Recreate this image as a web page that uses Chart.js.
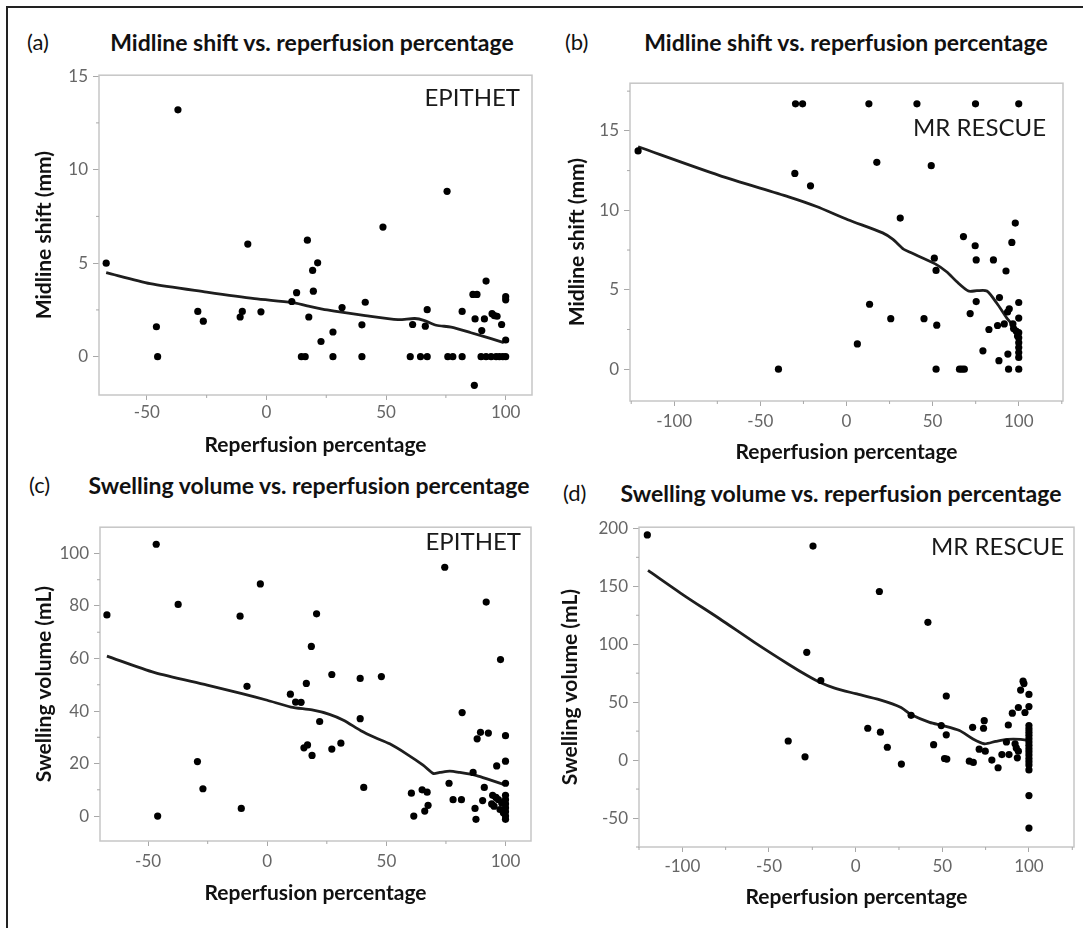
<!DOCTYPE html>
<html>
<head>
<meta charset="utf-8">
<title>Midline shift and swelling volume vs. reperfusion percentage</title>
<script src="https://cdn.jsdelivr.net/npm/chart.js@4.4.1/dist/chart.umd.min.js"></script>
<style>
  body { margin: 0; background: #fff; }
  #page { position: relative; width: 1091px; height: 928px; overflow: hidden; font-family: Lato, sans-serif; color: #111; }
  .frame-top { position: absolute; left: 6px; top: 6px; width: 1077px; height: 2px; background: #222; }
  .frame-left { position: absolute; left: 6px; top: 6px; width: 2px; height: 922px; background: #222; }
  .ptitle { position: absolute; transform: translate(-50%, -50%); font-weight: bold; font-size: 23px; white-space: nowrap; }
  .plabel { position: absolute; transform: translateY(-50%); font-size: 22px; }
  canvas { position: absolute; }
</style>
</head>
<body>
<div id="page">
  <div class="frame-top"></div>
  <div class="frame-left"></div>
  <div class="plabel" style="left:27px; top:41px;">(a)</div>
  <div class="ptitle" style="left:312px; top:42px;">Midline shift vs. reperfusion percentage</div>
  <div class="plabel" style="left:565px; top:41px;">(b)</div>
  <div class="ptitle" style="left:846px; top:42px;">Midline shift vs. reperfusion percentage</div>
  <div class="plabel" style="left:29px; top:484px;">(c)</div>
  <div class="ptitle" style="left:309px; top:485px;">Swelling volume vs. reperfusion percentage</div>
  <div class="plabel" style="left:563px; top:492px;">(d)</div>
  <div class="ptitle" style="left:841px; top:493px;">Swelling volume vs. reperfusion percentage</div>
</div>
<script>
// Datos: [reperfusion %, valor]

// (a) EPITHET, desplazamiento de linea media (mm)
const shiftEpithet = [
  [-67, 5.0], [-37, 13.2], [-46, 1.6], [-45.5, 0], [-28.7, 2.42], [-26.4, 1.9],
  [-11, 2.12], [-10.1, 2.42], [-7.8, 6.02], [-2.3, 2.4], [10.6, 2.95], [12.6, 3.42],
  [14.6, 0], [16.2, 0], [17.1, 6.23], [17.7, 2.12], [19.3, 4.61], [19.6, 3.5],
  [21.4, 5.02], [22.8, 0.81], [27.8, 1.32], [27.8, 0], [31.6, 2.63], [39.9, 1.7],
  [39.9, 0], [41.3, 2.91], [48.7, 6.93], [60.1, 0], [64.4, 0], [67.2, 0],
  [61.1, 1.72], [66.4, 1.63], [67.2, 2.51], [75.5, 8.84], [75.8, 0], [77.9, 0],
  [81.8, 0], [81.8, 2.42], [91.8, 4.04], [86.3, 3.33], [88, 3.33], [87.2, 2.02],
  [91.1, 2.02], [90, 1.4], [86.9, -1.53], [94.3, 2.3], [95.3, 2.19], [96.4, 2.16],
  [98.3, 1.72], [100, 3.21], [100, 3.04], [100, 0.89], [89.7, 0], [91.8, 0],
  [93.9, 0], [96, 0], [97.4, 0], [98.8, 0], [100, 0]
];
const shiftEpithetFit = [
  [-67, 4.49], [-48.6, 3.9], [-25, 3.45], [-5, 3.1], [10.6, 2.9], [17, 2.72],
  [25.4, 2.5], [41.3, 2.2], [55, 1.98], [62, 2.04], [66.1, 1.93], [71, 1.68],
  [77.2, 1.58], [85.5, 1.28], [93.9, 0.96], [99.2, 0.75]
];

// (b) MR RESCUE, desplazamiento de linea media (mm)
const shiftRescue = [
  [-121, 13.74], [-29.6, 16.7], [-25.5, 16.7], [13, 16.7], [40.9, 16.7], [74.9, 16.7],
  [100, 16.7], [-30, 12.32], [-20.9, 11.54], [17.6, 13.02], [49.2, 12.81], [31.2, 9.51],
  [13.4, 4.09], [25.7, 3.18], [6.3, 1.59], [-39.5, 0], [98, 9.2], [67.9, 8.35],
  [74.7, 7.77], [96, 7.98], [51, 6.99], [52, 6.22], [75.3, 6.88], [85.3, 6.88],
  [92.6, 6.18], [75.3, 4.26], [88.8, 4.51], [100, 4.2], [94.5, 3.8], [93.5, 3.6],
  [71.8, 3.5], [45, 3.18], [52.4, 2.77], [100, 3.22], [82.7, 2.5], [87.7, 2.75],
  [91.6, 2.85], [96.6, 2.85], [79.2, 1.16], [88.5, 0.54], [93.7, 0.95], [52, 0],
  [65.6, 0], [67, 0], [68.4, 0], [94.1, 0], [100, 0], [97, 2.56], [98.5, 2.4],
  [99.3, 2.09], [100, 2.3], [100, 1.98], [100, 1.67], [100, 1.36], [100, 1.05], [100, 0.74]
];
const shiftRescueFit = [
  [-121, 14], [-74, 12.2], [-33.6, 10.85], [-17.4, 10.24], [0.8, 9.41], [21, 8.58],
  [27, 8.17], [33.2, 7.55], [36.9, 7.36], [51.5, 6.63], [58.3, 6.12], [64.1, 5.5],
  [70.8, 4.92], [75.7, 4.94], [81.5, 4.92], [87.3, 4.15], [93.1, 3.22], [97, 2.7],
  [99.3, 2.09], [99.9, 1.36], [100, 1.0]
];

// (c) EPITHET, volumen de edema (mL)
const swellEpithet = [
  [-67.3, 76.6], [-46.6, 103.5], [-46, 0], [-37.4, 80.6], [-29.3, 20.75], [-27, 10.4],
  [-11.4, 76.1], [-10.9, 2.9], [-8.5, 49.4], [-2.9, 88.4], [9.7, 46.4], [11.9, 43.4],
  [14.2, 43.3], [15.4, 26], [16.9, 27.1], [18.8, 23.1], [16.4, 50.5], [18.5, 64.6],
  [20.7, 77], [22, 36], [27.1, 53.9], [27.1, 25.5], [30.9, 27.75], [39, 52.4],
  [39, 37.1], [40.5, 10.9], [47.9, 53.1], [74.5, 94.75], [81.8, 39.4], [91.9, 81.5],
  [97.9, 59.6], [88.1, 29.4], [89.5, 31.9], [92.8, 31.6], [100, 30.6], [96.3, 19.1],
  [100, 20.9], [86.4, 16.6], [100, 12.5], [76.3, 12.5], [60.5, 8.7], [65, 10],
  [67.1, 9.1], [67.5, 4.1], [66.1, 1.9], [61.5, 0], [78, 6.25], [81.5, 6.25],
  [91.1, 10.9], [90.4, 5.9], [87.2, 2.9], [87.6, -1.25], [94.6, 7.9], [96, 7.1],
  [97, 6.25], [94.2, 4.6], [95.2, 3.75], [97.7, 2.5], [99.1, 1.25], [100, 7.9],
  [100, 6.25], [100, 4.6], [100, 3.1], [100, 1.6], [100, 0], [100, -1.25], [98.4, 5]
];
const swellEpithetFit = [
  [-67.3, 60.9], [-47.2, 54.6], [-25.2, 49.9], [-10.6, 46.6], [0, 44.1], [10, 41.5],
  [18.8, 40.4], [26.1, 38.75], [32, 36.5], [39.3, 32.5], [45.2, 29.9], [51.4, 27.5],
  [58.4, 23.7], [65.4, 19.4], [69.6, 16.25], [72.4, 16.6], [76.6, 17.1], [80.8, 16.6],
  [87.9, 15.4], [93.5, 13.75], [99.8, 11.9]
];

// (d) MR RESCUE, volumen de edema (mL)
const swellRescue = [
  [-120.2, 194.3], [-24.6, 184.7], [-28.2, 93], [-20.1, 68.7], [-38.9, 16.5], [-29.2, 2.8],
  [13.7, 145.5], [41.7, 118.9], [7, 27.5], [14.3, 24.1], [18.3, 11.1], [26.4, -3.4],
  [32, 38.6], [52.3, 55.3], [49.4, 29.8], [52.3, 21.8], [45, 13.3], [51.3, 1.4],
  [52.6, 0.85], [67.5, 28.3], [74.2, 34], [73.8, 27.5], [71.3, 9.4], [74.8, 7.7],
  [65.6, -0.9], [67.9, -2], [78.6, 0], [82.2, -6.6], [84.4, 4.8], [88.5, 4.8],
  [88.1, 30.3], [87, 15.6], [90.4, 40.5], [93.9, 45.4], [92, 14.1], [92.7, 10.5],
  [93.9, 7.7], [93.3, 2], [96.6, 68.1], [97.1, 66], [95.2, 60.4], [100, 56.7],
  [97.7, 41.1], [100, 46.2], [100, 29.8], [100, 26.9], [100, 24.1], [100, 21.3],
  [100, 18.4], [100, 15.6], [100, 12.8], [100, 9.9], [100, 7.1], [100, 4.3],
  [100, 1.4], [100, -1.4], [100, -4.3], [100, -8.5], [100, -30.6], [100, -58.7]
];
const swellRescueFit = [
  [-119.8, 163.7], [-98.7, 141.8], [-78.5, 122], [-58.4, 101.6], [-38.3, 82.3], [-28.2, 73.2],
  [-20.1, 66.7], [-12.1, 62.1], [0, 57.3], [14.1, 51.9], [26.2, 45.4], [32.2, 39.1],
  [42.7, 32.6], [50.3, 29.8], [59.9, 25.5], [67.5, 18.4], [74.2, 14.1], [80.9, 16.2],
  [87.6, 17.9], [95.2, 17.9], [99.6, 17]
];

// Marcas de los ejes
const ticksEpithetX = [-50, 0, 50, 100];
const minorEpithetX = [-25, 25, 75];
const ticksRescueX = [-100, -50, 0, 50, 100];
const minorRescueX = [-125, -75, -25, 25, 75, 125];
const ticksShiftEpithetY = [0, 5, 10, 15];
const minorShiftEpithetY = [2.5, 7.5, 12.5];
const ticksShiftRescueY = [0, 5, 10, 15];
const minorShiftRescueY = [2.5, 7.5, 12.5, 17.5];
const ticksSwellEpithetY = [0, 20, 40, 60, 80, 100];
const minorSwellEpithetY = [10, 30, 50, 70, 90];
const ticksSwellRescueY = [-50, 0, 50, 100, 150, 200];
const minorSwellRescueY = [-75, -25, 25, 75, 125, 175];

const toXY = pairs => pairs.map(p => ({ x: p[0], y: p[1] }));

// Caja gris, marcas menores y etiqueta del estudio
const plotBox = {
  id: 'plotBox',
  afterDraw(chart, args, opts) {
    const { ctx, chartArea: a, scales } = chart;
    ctx.save();
    ctx.strokeStyle = '#c6c6c6';
    ctx.lineWidth = 1.5;
    ctx.strokeRect(a.left, a.top, a.right - a.left, a.bottom - a.top);
    ctx.strokeStyle = '#a8a8a8';
    ctx.lineWidth = 1;
    ctx.beginPath();
    opts.xMinor.forEach(v => {
      const px = scales.x.getPixelForValue(v);
      ctx.moveTo(px, a.bottom);
      ctx.lineTo(px, a.bottom + 3);
    });
    opts.yMinor.forEach(v => {
      const py = scales.y.getPixelForValue(v);
      ctx.moveTo(a.left, py);
      ctx.lineTo(a.left - 3, py);
    });
    ctx.stroke();
    ctx.fillStyle = '#1a1a1a';
    ctx.font = '24px Lato';
    ctx.textAlign = 'right';
    ctx.textBaseline = 'middle';
    ctx.fillText(opts.label, a.right - opts.labelRight, a.top + opts.labelTop);
    ctx.restore();
  }
};

const axisTitleSize = 21;

function makePanel(p) {
  const lh = axisTitleSize * 1.2;
  const cl = Math.round(p.yTitleX - lh / 2);
  const ct = p.box.t - 10;
  const cb = Math.round(p.xTitleY + lh / 2);
  const w = p.box.r + 10 - cl;
  const h = cb - ct;
  const canvas = document.createElement('canvas');
  canvas.width = w;
  canvas.height = h;
  canvas.style.left = cl + 'px';
  canvas.style.top = ct + 'px';
  canvas.style.width = w + 'px';
  canvas.style.height = h + 'px';
  document.getElementById('page').appendChild(canvas);

  const tickFont = { family: 'Lato', size: 17 };
  const titleFont = { family: 'Lato', size: axisTitleSize, weight: 'bold' };
  const gridOpts = { drawOnChartArea: false, drawTicks: true, tickLength: 6, tickColor: '#a8a8a8', tickWidth: 1 };

  new Chart(canvas, {
    type: 'scatter',
    data: {
      datasets: [
        { data: toXY(p.points), pointRadius: 3.6, pointBackgroundColor: '#000', pointBorderWidth: 0 },
        { data: toXY(p.fit), showLine: true, borderColor: '#1e1e1e', borderWidth: 2.8, pointRadius: 0, tension: 0.25, fill: false }
      ]
    },
    options: {
      responsive: false,
      animation: false,
      events: [],
      layout: { padding: { top: 10, right: 10, left: 0, bottom: 0 } },
      plugins: {
        legend: { display: false },
        tooltip: { enabled: false },
        plotBox: { xMinor: p.xMinor, yMinor: p.yMinor, label: p.label, labelRight: p.labelRight, labelTop: p.labelTop }
      },
      scales: {
        x: {
          type: 'linear', min: p.xRange[0], max: p.xRange[1],
          afterBuildTicks: s => { s.ticks = p.xTicks.map(v => ({ value: v })); },
          afterFit: s => { s.height = cb - p.box.b; },
          grid: Object.assign({}, gridOpts, { tickLength: 5 }),
          border: { display: false },
          ticks: { color: '#666', font: tickFont, padding: p.xTickPad, maxRotation: 0, autoSkip: false, callback: v => String(v) },
          title: { display: true, text: 'Reperfusion percentage', color: '#111', font: titleFont, padding: 0 }
        },
        y: {
          type: 'linear', min: p.yRange[0], max: p.yRange[1],
          afterBuildTicks: s => { s.ticks = p.yTicks.map(v => ({ value: v })); },
          afterFit: s => { s.width = p.box.l - cl; },
          grid: gridOpts,
          border: { display: false },
          ticks: { color: '#666', font: tickFont, padding: 5, autoSkip: false, callback: v => String(v) },
          title: { display: true, text: p.yTitle, color: '#111', font: titleFont, padding: 0 }
        }
      }
    },
    plugins: [plotBox]
  });
}

makePanel({
  box: { l: 99, t: 70, r: 532, b: 395 }, yTitleX: 45, xTitleY: 445, xTickPad: 2,
  xRange: [-70, 111], yRange: [-2.05, 15.05],
  xTicks: ticksEpithetX, xMinor: minorEpithetX, yTicks: ticksShiftEpithetY, yMinor: minorShiftEpithetY,
  points: shiftEpithet, fit: shiftEpithetFit, yTitle: 'Midline shift (mm)',
  label: 'EPITHET', labelRight: 12, labelTop: 23
});
makePanel({
  box: { l: 630, t: 78, r: 1063, b: 401 }, yTitleX: 578, xTitleY: 452, xTickPad: 5,
  xRange: [-125.7, 125.7], yRange: [-2, 18],
  xTicks: ticksRescueX, xMinor: minorRescueX, yTicks: ticksShiftRescueY, yMinor: minorShiftRescueY,
  points: shiftRescue, fit: shiftRescueFit, yTitle: 'Midline shift (mm)',
  label: 'MR RESCUE', labelRight: 17, labelTop: 45
});
makePanel({
  box: { l: 100, t: 522, r: 531, b: 841 }, yTitleX: 45, xTitleY: 893, xTickPad: 5,
  xRange: [-70.2, 110.7], yRange: [-9.5, 110],
  xTicks: ticksEpithetX, xMinor: minorEpithetX, yTicks: ticksSwellEpithetY, yMinor: minorSwellEpithetY,
  points: swellEpithet, fit: swellEpithetFit, yTitle: 'Swelling volume (mL)',
  label: 'EPITHET', labelRight: 10, labelTop: 15
});
makePanel({
  box: { l: 639, t: 522, r: 1074, b: 847 }, yTitleX: 571, xTitleY: 897, xTickPad: 4,
  xRange: [-125, 126], yRange: [-75, 201],
  xTicks: ticksRescueX, xMinor: minorRescueX, yTicks: ticksSwellRescueY, yMinor: minorSwellRescueY,
  points: swellRescue, fit: swellRescueFit, yTitle: 'Swelling volume (mL)',
  label: 'MR RESCUE', labelRight: 10, labelTop: 20
});
</script>
</body>
</html>
